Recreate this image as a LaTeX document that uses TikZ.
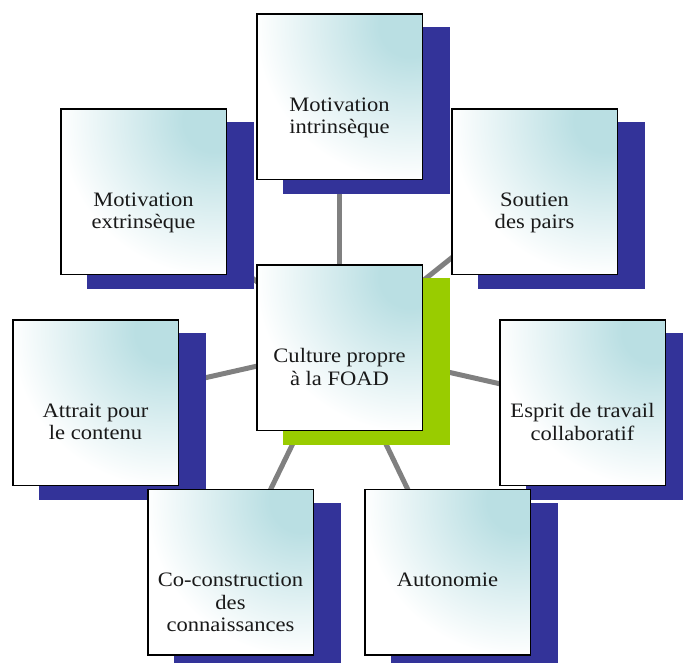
\documentclass[tikz,border=0pt]{standalone}
\usepackage{fontspec}
\setmainfont[FakeStretch=1.1]{Liberation Serif}
\usetikzlibrary{calc}
\pgfdeclarelayer{linklayer}
\pgfdeclarelayer{shadowlayer}
\pgfsetlayers{linklayer,shadowlayer,main}
\definecolor{shblue}{RGB}{51,51,153}
\definecolor{shgreen}{RGB}{153,204,0}
\definecolor{tealfill}{RGB}{186,223,227}
\definecolor{linkgray}{RGB}{128,128,128}
\pgfdeclareradialshading{cornerglow}{\pgfpointorigin}{%
  color(0bp)=(tealfill); color(5bp)=(tealfill); color(25bp)=(white); color(50bp)=(white)}
\tikzset{
  card/.style={draw=black, line width=1.5pt, minimum width=165.5pt, minimum height=165.5pt,
    inner sep=0pt, fill=white,
    path picture={\shade[shading=cornerglow]
      ($(path picture bounding box.north east)+(-12,12)$) circle (155pt);}},
  cardtext/.style={anchor=north, align=center, inner sep=0pt, text=black!90,
    font=\fontsize{20.5}{22.5}\selectfont},
  shadowbox/.style={draw=none, minimum width=167pt, minimum height=167pt, inner sep=0pt},
  link/.style={draw=linkgray, line width=5pt},
}
\begin{document}
\begin{tikzpicture}[x=1pt,y=-1pt]
\useasboundingbox (0,0) rectangle (683,662);
% boxes
\node[card] (c)  at (339.5,347.5) {};
\node[card] (mi) at (339.5,96.5) {};
\node[card] (me) at (143.5,191.5) {};
\node[card] (sp) at (534.5,191.5) {};
\node[card] (at) at (95.5,402.5) {};
\node[card] (es) at (582.5,402.5) {};
\node[card] (cc) at (230.5,572) {};
\node[card] (au) at (447.5,572) {};
% texts
\node[cardtext] (ct)  at ($(c.center)+(0,1)$)  {Culture propre\\à la FOAD};
\node[cardtext] (mit) at ($(mi.center)+(0,1)$) {Motivation\\intrinsèque};
\node[cardtext] (met) at ($(me.center)+(0,1)$) {Motivation\\extrinsèque};
\node[cardtext] (spt) at ($(sp.center)+(0,1)$) {Soutien\\des pairs};
\node[cardtext] (att) at ($(at.center)+(0,1)$) {Attrait pour\\le contenu};
\node[cardtext] (est) at ($(es.center)+(0,1)$) {Esprit de travail\\collaboratif};
\node[cardtext] (cct) at ($(cc.center)+(0,1)$) {Co-construction\\des\\connaissances};
\node[cardtext] (aut) at ($(au.center)+(0,1)$) {Autonomie};
% shadows
\begin{pgfonlayer}{shadowlayer}
\node[shadowbox, fill=shgreen] (cs)  at ($(c)+(27,14)$)  {};
\node[shadowbox, fill=shblue]  (mis) at ($(mi)+(27,14)$) {};
\node[shadowbox, fill=shblue]  (mes) at ($(me)+(27,14)$) {};
\node[shadowbox, fill=shblue]  (sps) at ($(sp)+(27,14)$) {};
\node[shadowbox, fill=shblue]  (ats) at ($(at)+(27,14)$) {};
\node[shadowbox, fill=shblue]  (ess) at ($(es)+(27,14)$) {};
\node[shadowbox, fill=shblue]  (ccs) at ($(cc)+(27,14)$) {};
\node[shadowbox, fill=shblue]  (aus) at ($(au)+(27,14)$) {};
\end{pgfonlayer}
% connectors
\begin{pgfonlayer}{linklayer}
\foreach \n in {mi,me,sp,at,es,cc,au}
  \draw[link] (c.center) -- (\n.center);
\end{pgfonlayer}
\end{tikzpicture}
\end{document}
